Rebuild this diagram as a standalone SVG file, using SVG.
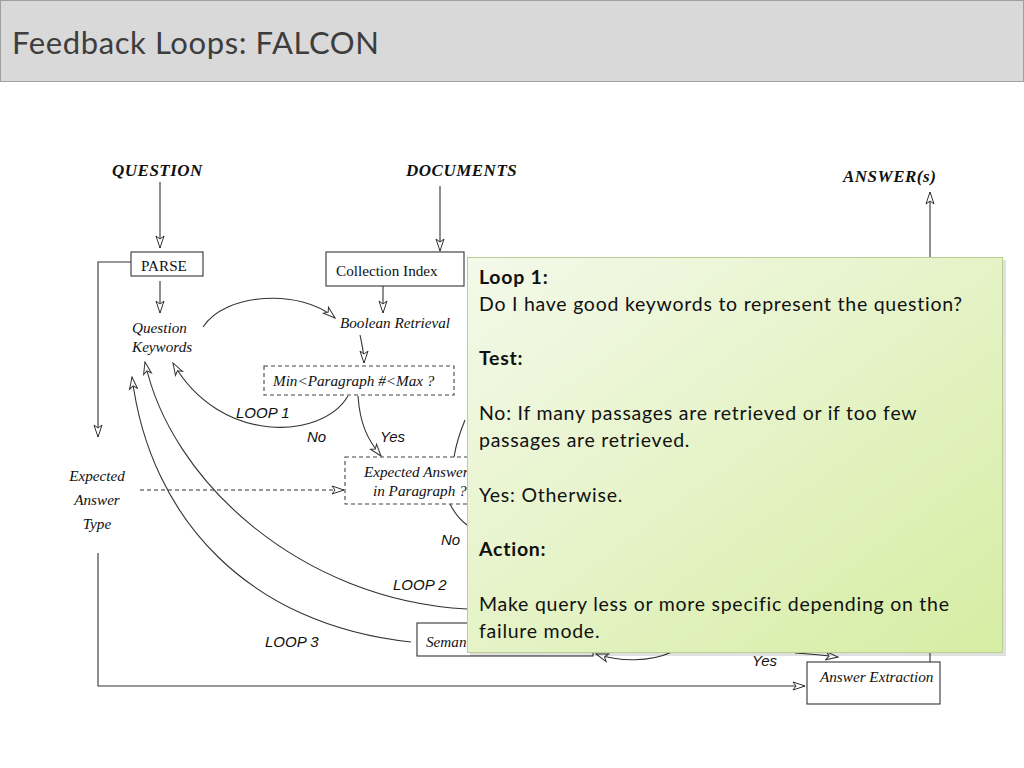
<svg xmlns="http://www.w3.org/2000/svg" width="1024" height="768" viewBox="0 0 1024 768">
<defs>
<marker id="ah" markerUnits="userSpaceOnUse" markerWidth="14" markerHeight="11" refX="12" refY="5" orient="auto" viewBox="-1 -1 14 11">
<path d="M0,1 L12,5 L0,9 L3,5 Z" fill="#fff" stroke="#333" stroke-width="1"/>
</marker>
<linearGradient id="cg" x1="0" y1="0" x2="1" y2="1">
<stop offset="0" stop-color="#f4f9ea"/>
<stop offset="1" stop-color="#d6eda3"/>
</linearGradient>
<style>
.ln{fill:none;stroke:#333;stroke-width:1.1}
.box{fill:#fff;stroke:#333;stroke-width:1.1}
.dbox{fill:#fff;stroke:#444;stroke-width:1.1;stroke-dasharray:4,3}
.hd{font-family:"Liberation Serif",serif;font-weight:bold;font-style:italic;font-size:17px;letter-spacing:0.5px;fill:#111}
.sr{font-family:"Liberation Serif",serif;font-size:15.2px;fill:#111}
.si{font-family:"Liberation Serif",serif;font-style:italic;font-size:15.2px;fill:#111}
.lb{font-family:"Liberation Sans",sans-serif;font-style:italic;font-size:15px;fill:#111}
.ct{font-family:Lato,"Noto Sans",sans-serif;font-size:19.5px;letter-spacing:0.75px;fill:#111}
.cb{font-weight:bold}
</style>
</defs>
<rect x="0" y="0" width="1024" height="768" fill="#fff"/>
<g id="header">
<rect x="0.5" y="0.5" width="1023" height="81" fill="#d9d9d9" stroke="#a0a0a0"/>
<text x="12" y="54" font-family="Lato,'Noto Sans',sans-serif" font-size="31" letter-spacing="0.6" fill="#3d3d3d">Feedback Loops: FALCON</text>
</g>
<g id="connectors">
<path class="ln" d="M160,182 V248" marker-end="url(#ah)"/>
<path class="ln" d="M440,186 V251" marker-end="url(#ah)"/>
<path class="ln" d="M131,262 H98 V437" marker-end="url(#ah)"/>
<path class="ln" d="M160,281 V313" marker-end="url(#ah)"/>
<path class="ln" d="M383,286 V313" marker-end="url(#ah)"/>
<path class="ln" d="M203,327 C225,293 300,288 335,318" marker-end="url(#ah)"/>
<path class="ln" d="M360,335 C362,345 364,352 364,363" marker-end="url(#ah)"/>
<path class="ln" d="M348,396 C322,440 220,445 173,363" marker-end="url(#ah)"/>
<path class="ln" d="M358,396 C360,425 368,440 381,456" marker-end="url(#ah)"/>
<path class="ln" d="M140,490 H344" stroke-dasharray="4,3" marker-end="url(#ah)"/>
<path class="ln" d="M467,609 C300,600 170,480 145,362" marker-end="url(#ah)"/>
<path class="ln" d="M411,642 C250,625 150,520 132,377" marker-end="url(#ah)"/>
<path class="ln" d="M465,420 C460,432 456,445 454,457"/>
<path class="ln" d="M450,504 C454,512 460,520 467,525"/>
<path class="ln" d="M98,553 V686 H805" marker-end="url(#ah)"/>
<path class="ln" d="M672,652 C650,662 620,662 596,654" marker-end="url(#ah)"/>
<path class="ln" d="M795,653 C815,654 828,656 838,657" marker-end="url(#ah)"/>
<path class="ln" d="M930,662 V640"/>
<path class="ln" d="M930,270 V192" marker-end="url(#ah)"/>
</g>
<g id="labels">
<text class="hd" x="112" y="176">QUESTION</text>
<text class="hd" x="406" y="176">DOCUMENTS</text>
<text class="hd" x="843" y="182">ANSWER(s)</text>
<text class="lb" x="236" y="418">LOOP 1</text>
<text class="lb" x="307" y="442">No</text>
<text class="lb" x="380" y="442">Yes</text>
<text class="lb" x="441" y="545">No</text>
<text class="lb" x="393" y="590">LOOP 2</text>
<text class="lb" x="265" y="647">LOOP 3</text>
<text class="lb" x="752" y="666">Yes</text>
</g>
<g id="parse">
<rect class="box" x="131" y="252" width="72" height="24"/>
<text class="sr" x="141" y="271">PARSE</text>
</g>
<g id="question-keywords">
<text class="si" x="132" y="333">Question</text>
<text class="si" x="132" y="352">Keywords</text>
</g>
<g id="collection-index">
<rect class="box" x="326" y="252" width="138" height="34"/>
<text class="sr" x="336" y="276">Collection Index</text>
</g>
<g id="boolean-retrieval">
<text class="si" x="340" y="328">Boolean Retrieval</text>
</g>
<g id="min-max">
<rect class="dbox" x="264" y="366" width="190" height="29"/>
<text class="si" x="273" y="386">Min&lt;Paragraph #&lt;Max ?</text>
</g>
<g id="expected-answer-type">
<text class="si" x="97" y="481" text-anchor="middle">Expected</text>
<text class="si" x="97" y="505" text-anchor="middle">Answer</text>
<text class="si" x="97" y="529" text-anchor="middle">Type</text>
</g>
<g id="expected-answer">
<rect class="dbox" x="345" y="457" width="160" height="47"/>
<text class="si" x="364" y="477">Expected Answer</text>
<text class="si" x="373" y="496">in Paragraph ?</text>
</g>
<g id="semantic">
<rect class="box" x="417" y="623" width="176" height="33"/>
<text class="si" x="426" y="647">Seman</text>
</g>
<g id="answer-extraction">
<rect class="box" x="807" y="662" width="133" height="42"/>
<text class="si" x="820" y="682">Answer Extraction</text>
</g>
<g id="callout">
<rect x="470" y="260" width="536" height="396" fill="#000" opacity="0.12"/>
<rect x="467.5" y="257.5" width="535" height="395" fill="url(#cg)" stroke="#b9cf94"/>
<text class="ct cb" x="479" y="284">Loop 1:</text>
<text class="ct" x="479" y="311">Do I have good keywords to represent the question?</text>
<text class="ct cb" x="479" y="365">Test:</text>
<text class="ct" x="479" y="420">No: If many passages are retrieved or if too few</text>
<text class="ct" x="479" y="447">passages are retrieved.</text>
<text class="ct" x="479" y="502">Yes: Otherwise.</text>
<text class="ct cb" x="479" y="556">Action:</text>
<text class="ct" x="479" y="611">Make query less or more specific depending on the</text>
<text class="ct" x="479" y="638">failure mode.</text>
</g>
</svg>
